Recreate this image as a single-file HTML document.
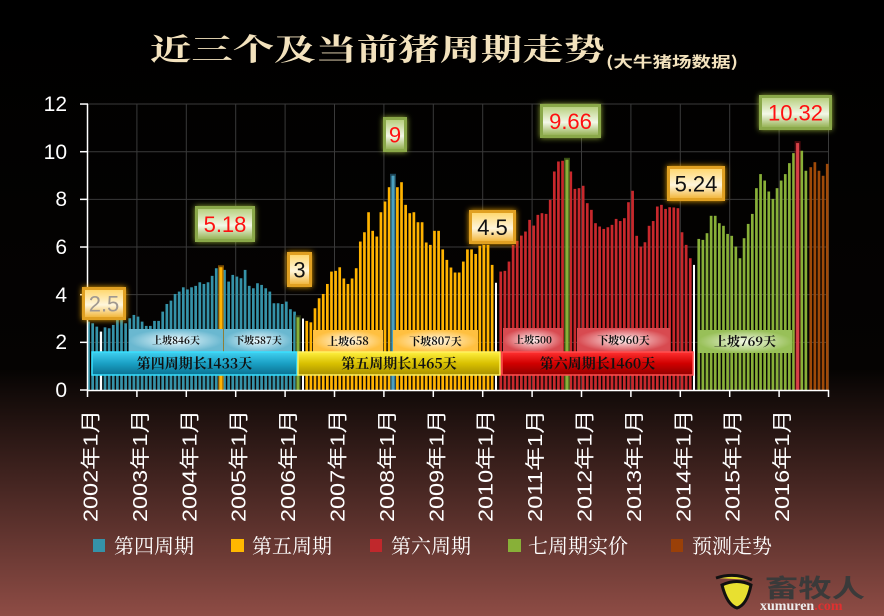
<!DOCTYPE html>
<html><head><meta charset="utf-8"><style>
html,body{margin:0;padding:0;width:884px;height:616px;overflow:hidden;background:#000}
svg{display:block}
</style></head><body>
<svg id="c" width="884" height="616" xmlns="http://www.w3.org/2000/svg">
<defs>
<linearGradient id="bg" x1="0" y1="0" x2="0" y2="1">
<stop offset="0" stop-color="#000"/><stop offset="0.6" stop-color="#050302"/><stop offset="0.64" stop-color="#130b09"/><stop offset="1" stop-color="#8e4c45"/></linearGradient>
<linearGradient id="gG" x1="0" y1="0" x2="0" y2="1"><stop offset="0" stop-color="#b8d080"/><stop offset="0.55" stop-color="#f4f8e8"/><stop offset="1" stop-color="#98b458"/></linearGradient>
<linearGradient id="gY" x1="0" y1="0" x2="0" y2="1"><stop offset="0" stop-color="#ffd870"/><stop offset="0.55" stop-color="#fff6dc"/><stop offset="1" stop-color="#f2b840"/></linearGradient>
<linearGradient id="bB" x1="0" y1="0" x2="0" y2="1"><stop offset="0" stop-color="#40d0f0"/><stop offset="0.5" stop-color="#1aa0c4"/><stop offset="1" stop-color="#0a7090"/></linearGradient>
<linearGradient id="bY" x1="0" y1="0" x2="0" y2="1"><stop offset="0" stop-color="#fff040"/><stop offset="0.5" stop-color="#d8c000"/><stop offset="1" stop-color="#a89000"/></linearGradient>
<linearGradient id="bR" x1="0" y1="0" x2="0" y2="1"><stop offset="0" stop-color="#ff3030"/><stop offset="0.5" stop-color="#d00000"/><stop offset="1" stop-color="#900000"/></linearGradient>
<radialGradient id="sB"><stop offset="0" stop-color="#f0fbff"/><stop offset="1" stop-color="#6ab8d0"/></radialGradient>
<radialGradient id="sY"><stop offset="0" stop-color="#fffaf0"/><stop offset="1" stop-color="#ffc040"/></radialGradient>
<radialGradient id="sR"><stop offset="0" stop-color="#fff4f4"/><stop offset="1" stop-color="#d84a50"/></radialGradient>
<radialGradient id="sG"><stop offset="0" stop-color="#f4fae8"/><stop offset="1" stop-color="#98c058"/></radialGradient>
<filter id="glowG" x="-30%" y="-40%" width="160%" height="180%"><feDropShadow dx="0" dy="0" stdDeviation="3" flood-color="#b4d040" flood-opacity="0.8"/></filter>
<filter id="glowY" x="-30%" y="-40%" width="160%" height="180%"><feDropShadow dx="0" dy="0" stdDeviation="3" flood-color="#ffb000" flood-opacity="0.9"/></filter>
</defs>
<rect width="884" height="616" fill="url(#bg)"/>
<g id="grid" stroke="#3a3a3a" stroke-width="1"></g>
<g id="bars"></g>
<g id="axes" stroke="#fff" stroke-width="1.5"></g>
<g id="ov"></g>
<g font-family="Liberation Sans, sans-serif" font-size="21" fill="#fff" text-anchor="end">
<text x="67" y="111">12</text><text x="67" y="159">10</text><text x="67" y="206">8</text><text x="67" y="254">6</text><text x="67" y="302">4</text><text x="67" y="349">2</text><text x="67" y="397">0</text>
</g>
<g id="yl" font-family="Liberation Sans, 'Noto Sans CJK SC', sans-serif" font-size="20" fill="#fff"></g>
<text x="150" y="60" font-family="'Noto Serif CJK SC','Noto Sans CJK SC',serif" font-weight="bold" font-size="30" fill="#f3e2bd" textLength="455" lengthAdjust="spacingAndGlyphs">近三个及当前猪周期走势</text>
<text x="606" y="67" font-family="'Noto Sans CJK SC',sans-serif" font-weight="bold" font-size="15" fill="#f3e2bd" textLength="132" lengthAdjust="spacingAndGlyphs">(大牛猪场数据)</text>
<g font-family="'Noto Serif CJK SC','Noto Sans CJK SC',serif" font-size="20" fill="#fff">
<rect x="93" y="539" width="12" height="13" fill="#3592a8"/><text x="114" y="553">第四周期</text>
<rect x="231" y="539" width="13" height="13" fill="#ffb800"/><text x="252" y="553">第五周期</text>
<rect x="370" y="539" width="12" height="13" fill="#c0282c"/><text x="391" y="553">第六周期</text>
<rect x="508" y="539" width="13" height="13" fill="#88b038"/><text x="528" y="553">七周期实价</text>
<rect x="671" y="539" width="12" height="13" fill="#9a4008"/><text x="692" y="553">预测走势</text>
</g>
<g>
<path d="M716 578 Q735 572 752 580 M722 585 Q727 605 737 608 Q747 605 751 585 Q737 578 722 585Z" fill="#e8e030" stroke="#111" stroke-width="3"/>
<text x="765" y="597" font-family="'Noto Sans CJK SC',sans-serif" font-weight="bold" font-size="25" fill="#3a3a3a" textLength="100" lengthAdjust="spacingAndGlyphs">畜牧人</text>
<text x="760" y="610" font-family="Liberation Serif,serif" font-weight="bold" font-size="14" fill="#eee">xumuren<tspan fill="#e03030">.com</tspan></text>
</g>
</svg>
<script>
var NS="http://www.w3.org/2000/svg";
function el(p,t,a,txt){var e=document.createElementNS(NS,t);for(var k in a)e.setAttribute(k,a[k]);if(txt!=null)e.textContent=txt;document.getElementById(p).appendChild(e);return e;}
function Y(v){return 390-v*23.83;}
for(var i=1;i<=6;i++){el("grid","line",{x1:87,x2:829,y1:Y(i*2),y2:Y(i*2)});}
var yrs=[];for(var i=0;i<16;i++)yrs.push(87.5+i*49.4);
for(var i=1;i<16;i++)el("grid","line",{x1:yrs[i],x2:yrs[i],y1:104,y2:390});
function bars(x0,vals,col){for(var i=0;i<vals.length;i++){var x=x0+i*4.12;el("bars","rect",{x:x-1.3,y:Y(vals[i]),width:2.7,height:390-Y(vals[i]),fill:col});}}
bars(88.5,[2.87,2.80,2.66,2.45,2.63,2.59,2.73,2.94,2.94,2.80,3.01,3.15,3.08,2.87,2.69,2.69,2.90,2.90,3.29,3.61,3.75,4.03,4.13,4.31,4.22,4.31,4.37,4.52,4.45,4.52,4.79,5.11,5.15,5.04,4.55,4.83,4.76,4.69,5.04,4.37,4.27,4.48,4.41,4.27,4.13,3.64,3.64,3.61,3.71,3.39,3.29],"#3592a8");
bars(306.7,[2.9,2.84,3.43,3.85,4.03,4.45,4.97,5.0,5.15,4.68,4.45,4.68,5.11,6.23,6.62,7.46,6.68,6.44,7.46,7.91,8.51,8.99,8.51,8.72,7.77,7.42,7.46,7.04,7.04,6.19,6.09,6.68,6.68,5.9,5.46,5.14,4.93,4.93,5.39,5.9,5.9,5.71,6.05,6.09,6.09,5.25],"#ffb300");
bars(500.7,[4.97,5.0,5.39,6.09,6.26,6.48,6.65,7.14,6.9,7.35,7.42,7.39,7.98,9.17,9.59,9.62,9.66,9.17,8.44,8.47,8.57,7.84,7.56,7.0,6.86,6.76,6.83,6.93,7.18,7.09,7.21,7.88,8.36,6.47,6.02,6.2,6.89,7.09,7.7,7.77,7.6,7.67,7.66,7.63,6.62,6.09,5.53],"#c8282c");
bars(698.7,[6.34,6.3,6.58,7.31,7.31,7.0,6.89,6.55,6.47,6.02,5.53,6.37,6.97,7.39,8.47,9.06,8.79,8.33,8.02,8.47,8.79,9.06,9.52,9.94,10.36,10.04,9.2],"#88b038");
bars(810.7,[9.35,9.56,9.2,8.99,9.49],"#a04a08");
// special markers
function mk(x,v,col,glow){el("bars","rect",{x:x-3,y:Y(v)-2,width:6,height:390-Y(v)+2,fill:glow,opacity:0.6});el("bars","rect",{x:x-1.5,y:Y(v),width:3,height:390-Y(v),fill:col});}
mk(221,5.15,"#ffb300","#d08000");
mk(393,8.99,"#4aa0c0","#2a7090");
mk(567,9.66,"#88b038","#5a8020");
mk(797.6,10.36,"#d84048","#801018");
mk(298,3.05,"#88b038","#405020");
[[101,2.45],[303,3.0],[496,4.5],[694,5.25]].forEach(function(p){el("bars","rect",{x:p[0]-1,y:Y(p[1]),width:2,height:390-Y(p[1]),fill:"#fff"});});
// axes
el("axes","line",{x1:87.5,x2:87.5,y1:104,y2:391});
el("axes","line",{x1:87,x2:829,y1:390.5,y2:390.5});
for(var i=0;i<=6;i++)el("axes","line",{x1:80,x2:88,y1:Y(i*2),y2:Y(i*2)});
for(var i=0;i<16;i++){var x=i==15?828.5:yrs[i];el("axes","line",{x1:x,x2:x,y1:390,y2:397});}
for(var i=0;i<15;i++){var t=el("yl","text",{transform:"translate("+(yrs[i]+10)+",522) rotate(-90)",textLength:112,lengthAdjust:"spacingAndGlyphs"},(2002+i)+"年1月");}
// bands
function band(x,y,w,h,fill,stroke,txt,fs,tc){el("ov","rect",{x:x,y:y,width:w,height:h,fill:fill,stroke:stroke,"stroke-width":1.5});if(txt)el("ov","text",{x:x+w/2,y:y+h/2+fs*0.36,"text-anchor":"middle","font-family":"'Noto Serif CJK SC','Noto Sans CJK SC',serif","font-size":fs,"font-weight":"bold",fill:tc||"#111"},txt);}
band(129,329,94,23,"url(#sB)","none","上坡846天",10);
band(224,329,68,23,"url(#sB)","none","下坡587天",10);
band(313,330,70,22,"url(#sY)","none","上坡658",11);
band(393,330,85,22,"url(#sY)","none","下坡807天",11);
band(503,328,60,24,"url(#sR)","none","上坡500",10);
band(577,328,93,24,"url(#sR)","none","下坡960天",11);
band(698,330,94,23,"url(#sG)","none","上坡769天",13);
band(92,352,205,23,"url(#bB)","#38e0ff","第四周期长1433天",14);
band(298,352,202,23,"url(#bY)","#fff060","第五周期长1465天",14);
band(502,352,191,23,"url(#bR)","#ff5050","第六周期长1460天",14);
// callouts
function call(x,y,w,h,kind,txt,tc){var g=el("ov","g",{filter:kind=="G"?"url(#glowG)":"url(#glowY)"});g.id="g"+x;
el("g"+x,"rect",{x:x,y:y,width:w,height:h,fill:kind=="G"?"#8aa848":"#e0a020"});
el("g"+x,"rect",{x:x+3,y:y+3,width:w-6,height:h-6,fill:kind=="G"?"url(#gG)":"url(#gY)"});
el("ov","text",{x:x+w/2,y:y+h/2+8,"text-anchor":"middle","font-family":"Liberation Sans, sans-serif","font-size":22,fill:tc},txt);}
call(82,287,44,33,"Y","2.5","#a09890");
call(195,206,60,36,"G","5.18","#ff1010");
call(287,252,25,35,"Y","3","#111");
call(383,117,24,35,"G","9","#ff1010");
call(469,210,47,34,"Y","4.5","#111");
call(540,104,61,34,"G","9.66","#ff1010");
call(667,166,58,35,"Y","5.24","#111");
call(759,95,73,35,"G","10.32","#ff1010");
</script>
</body></html>
